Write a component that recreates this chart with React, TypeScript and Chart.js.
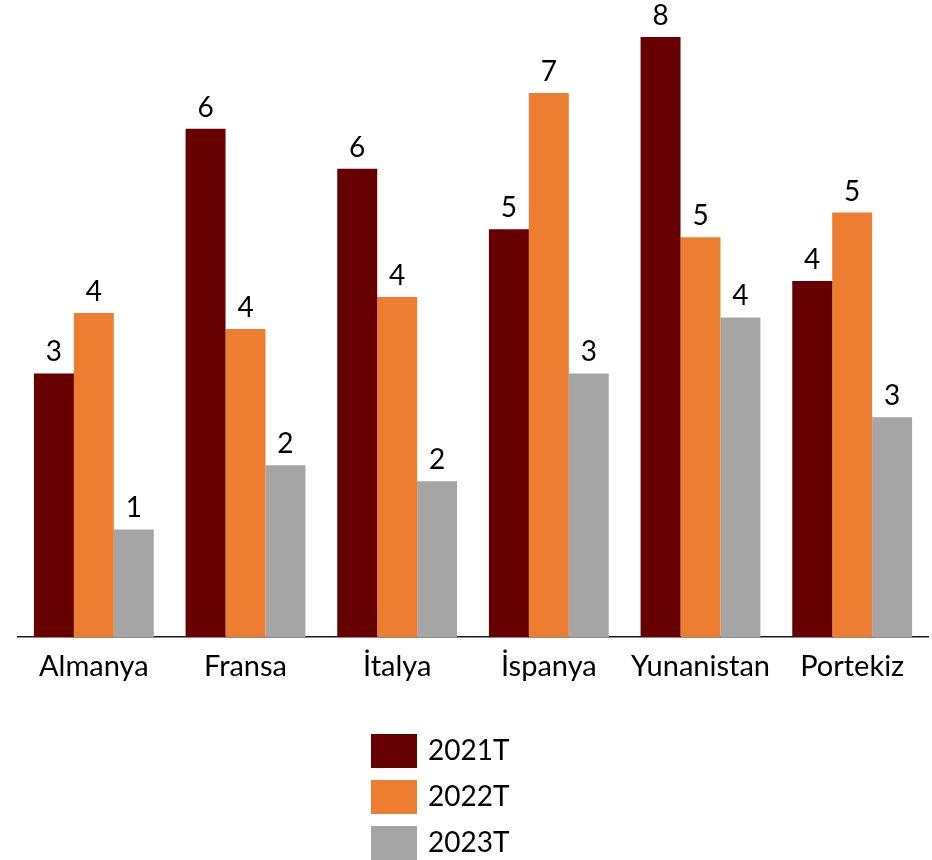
import React, { useEffect, useRef } from "react";
import { Chart, registerables } from "chart.js";

Chart.register(...registerables);

const categories = ["Almanya", "Fransa", "İtalya", "İspanya", "Yunanistan", "Portekiz"];
const seriesNames = ["2021T", "2022T", "2023T"];
const seriesColors = ["#660000", "#ED7D31", "#A5A5A5"];
const values2021 = [3.62, 6.98, 6.43, 5.6, 8.24, 4.89];
const values2022 = [4.45, 4.23, 4.67, 7.47, 5.49, 5.83];
const values2023 = [1.48, 2.36, 2.14, 3.62, 4.39, 3.02];
const labels2021 = ["3", "6", "6", "5", "8", "4"];
const labels2022 = ["4", "4", "4", "7", "5", "5"];
const labels2023 = ["1", "2", "2", "3", "4", "3"];
const yMin = 0;
const yMax = 8.5;

const FONT = "Lato, 'Open Sans', sans-serif";

export default function App() {
  const ref = useRef<HTMLCanvasElement | null>(null);

  useEffect(() => {
    if (!ref.current) return;
    const allValues = [values2021, values2022, values2023];
    const allLabels = [labels2021, labels2022, labels2023];

    const valueLabels = {
      id: "valueLabels",
      afterDatasetsDraw(chart: any) {
        const ctx = chart.ctx;
        ctx.save();
        ctx.fillStyle = "#000";
        ctx.font = `28px ${FONT}`;
        ctx.textAlign = "center";
        ctx.textBaseline = "alphabetic";
        chart.data.datasets.forEach((ds: any, di: number) => {
          const meta = chart.getDatasetMeta(di);
          meta.data.forEach((bar: any, i: number) => {
            ctx.fillText(allLabels[di][i], bar.x, bar.y - 12);
          });
        });
        ctx.restore();
      },
    };

    const customLegend = {
      id: "customLegend",
      afterDraw(chart: any) {
        const ctx = chart.ctx;
        ctx.save();
        ctx.font = `28px ${FONT}`;
        ctx.textAlign = "left";
        ctx.textBaseline = "alphabetic";
        chart.data.datasets.forEach((ds: any, di: number) => {
          const y = 734 + di * 46;
          ctx.fillStyle = ds.backgroundColor;
          ctx.fillRect(371, y, 46, 34);
          ctx.fillStyle = "#000";
          ctx.fillText(ds.label, 428, y + 26);
        });
        ctx.restore();
      },
    };

    const chart = new Chart(ref.current, {
      type: "bar",
      data: {
        labels: categories,
        datasets: seriesNames.map((name, i) => ({
          label: name,
          data: allValues[i],
          backgroundColor: seriesColors[i],
          borderWidth: 0,
          categoryPercentage: 0.79,
          barPercentage: 1,
        })),
      },
      options: {
        animation: false,
        responsive: false,
        maintainAspectRatio: false,
        layout: { padding: { left: 18, right: 4, top: 18, bottom: 164 } },
        plugins: {
          legend: { display: false },
          tooltip: { enabled: false },
        },
        scales: {
          x: {
            grid: { display: false, drawTicks: false },
            border: { display: true, color: "#1a1a1a", width: 1.5 },
            ticks: {
              color: "#000",
              font: { family: FONT, size: 29 },
              padding: 12,
            },
          },
          y: {
            display: false,
            min: yMin,
            max: yMax,
          },
        },
      },
      plugins: [valueLabels, customLegend],
    });
    return () => chart.destroy();
  }, []);

  return (
    <div style={{ position: "fixed", left: 0, top: 0, width: 932, height: 860, background: "#fff" }}>
      <canvas ref={ref} width={932} height={860} style={{ display: "block", width: 932, height: 860 }} />
    </div>
  );
}
